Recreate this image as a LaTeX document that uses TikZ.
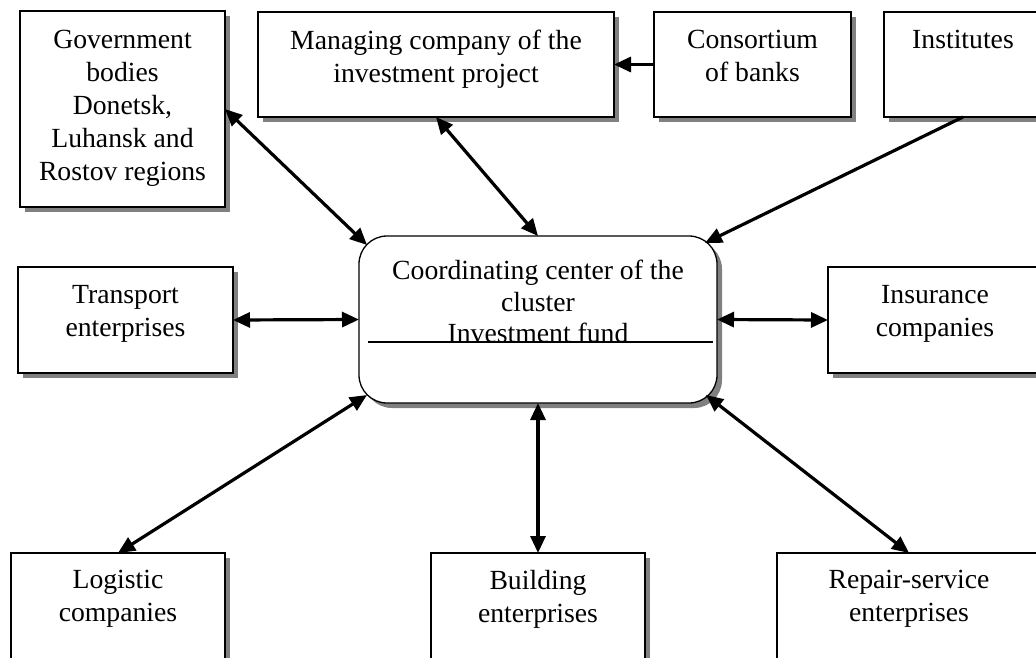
\documentclass[tikz,border=0pt]{standalone}
\usepackage{fontspec}
\setmainfont{Liberation Serif}
\usetikzlibrary{shadows,arrows.meta}
\begin{document}
\begin{tikzpicture}[x=1pt,y=1pt,
  box/.style={draw=black, line width=1.3pt, fill=white,
    drop shadow={shadow xshift=5pt, shadow yshift=-5pt, fill=black!50, opacity=1},
    anchor=north west, inner sep=0pt, outer sep=0pt},
  lbl/.style={anchor=north, inner sep=0pt, align=center,
    font=\fontsize{27.7}{33}\selectfont, yshift=-18pt},
  tip/.tip={Triangle[length=17pt,width=15pt]},
  link/.style={line width=3.2pt, tip-tip},
  onelink/.style={line width=3.2pt, -tip}]
\useasboundingbox (0,0) rectangle (1036,-657);
\clip (0,0) rectangle (1036,-657);
% boxes
\node[box, minimum width=205pt, minimum height=196pt] (gov) at (20,-11) {};
\node[box, minimum width=356pt, minimum height=105pt] (man) at (258,-12) {};
\node[box, minimum width=197pt, minimum height=105pt] (cons) at (654,-12) {};
\node[box, minimum width=158pt, minimum height=105pt] (inst) at (884,-12) {};
\node[box, minimum width=215pt, minimum height=106pt] (trans) at (18,-267) {};
\node[box, minimum width=358pt, minimum height=167pt, rounded corners=28pt] (cc) at (359,-236) {};
\node[box, minimum width=214pt, minimum height=106pt] (ins) at (828,-267) {};
\node[box, minimum width=214pt, minimum height=150pt] (log) at (11,-553) {};
\node[box, minimum width=214pt, minimum height=150pt] (bld) at (431,-553) {};
\node[box, minimum width=264pt, minimum height=150pt] (rep) at (777,-553) {};
% texts
\node[lbl, yshift=-1pt] (govt) at (gov.north) {Government\\bodies\\Donetsk,\\Luhansk and\\Rostov regions};
\node[lbl] (mant) at (man.north) {Managing company of the\\investment project};
\node[lbl] (const) at (cons.north) {Consortium\\of banks};
\node[lbl] (instt) at (inst.north) {Institutes};
\node[lbl] (transt) at (trans.north) {Transport\\enterprises};
\node[lbl, yshift=-6pt, font=\fontsize{27.7}{31.5}\selectfont] (cct) at (cc.north) {Coordinating center of the\\cluster\\Investment fund};
\node[lbl] (inst2) at (ins.north) {Insurance\\companies};
\node[lbl, yshift=1pt] (logt) at (log.north) {Logistic\\companies};
\node[lbl, yshift=1pt] (bldt) at (bld.north) {Building\\enterprises};
\node[lbl, yshift=1pt] (rept) at (rep.north) {Repair-service\\enterprises};
% divider in the centre box
\coordinate (divl) at (368,-342);
\coordinate (divr) at (713,-342);
\draw[line width=1.3pt] (divl) -- (divr);
% connectors
\draw[link] (gov.east) -- ([shift={(8pt,-9pt)}]cc.north west);
\draw[link] (man.south) -- (cc.north);
\draw[onelink] (cons.west) -- (man.east);
\draw[onelink] (inst.south) -- ([shift={(-12pt,-7pt)}]cc.north east);
\draw[link] (trans.east) -- (cc.west);
\draw[link] (ins.west) -- (cc.east);
\draw[link] (log.north) -- ([shift={(8pt,8pt)}]cc.south west);
\draw[link] (bld.north) -- (cc.south);
\draw[link] (rep.north) -- ([shift={(-11pt,8pt)}]cc.south east);
\end{tikzpicture}
\end{document}
